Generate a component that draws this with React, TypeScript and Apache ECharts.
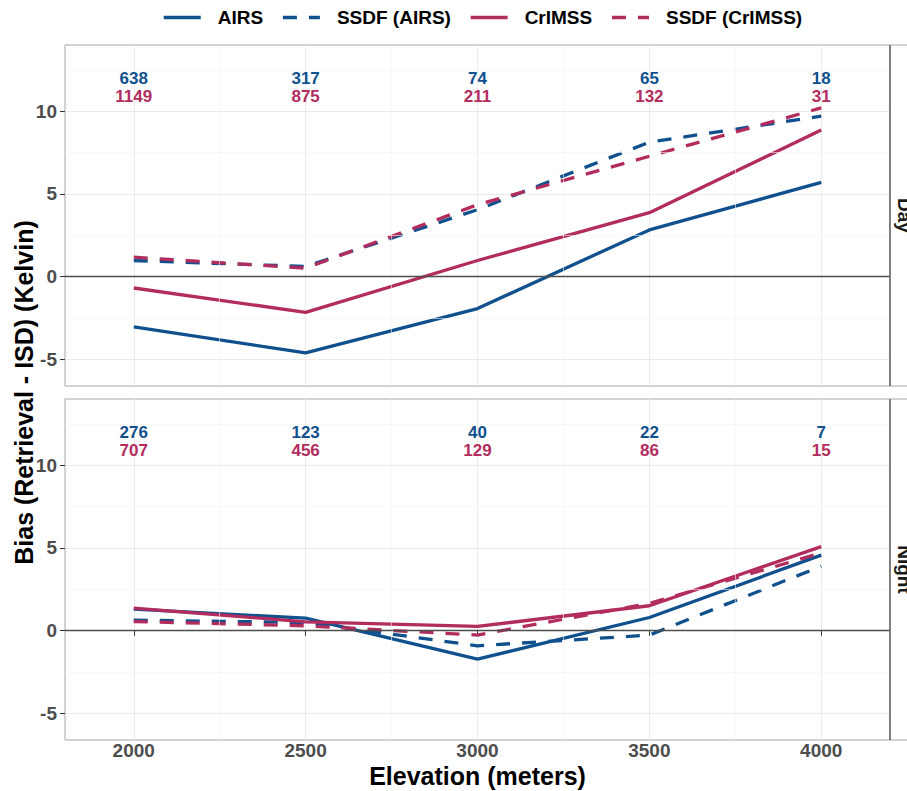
import React, { useEffect, useRef } from 'react';
import * as echarts from 'echarts';

// Elevation bins (metres) shared by both panels
const elevation = [2000, 2500, 3000, 3500, 4000];
const seriesNames = ['AIRS', 'SSDF (AIRS)', 'CrIMSS', 'SSDF (CrIMSS)'];
const panelNames = ['Day', 'Night'];

// Mean bias (retrieval - ISD), Kelvin — daytime
const dayAirs = [-3.03, -4.6, -1.92, 2.83, 5.7];
const daySsdfAirs = [0.98, 0.62, 4.05, 8.13, 9.7];
const dayCrimss = [-0.68, -2.15, 0.98, 3.87, 8.86];
const daySsdfCrimss = [1.18, 0.52, 4.35, 7.28, 10.2];

// Mean bias (retrieval - ISD), Kelvin — nighttime
const nightAirs = [1.31, 0.76, -1.71, 0.8, 4.57];
const nightSsdfAirs = [0.64, 0.5, -0.91, -0.26, 3.9];
const nightCrimss = [1.37, 0.54, 0.26, 1.51, 5.08];
const nightSsdfCrimss = [0.56, 0.3, -0.26, 1.65, 4.7];

// Number of matched samples per elevation bin
const dayAirsCount = [638, 317, 74, 65, 18];
const dayCrimssCount = [1149, 875, 211, 132, 31];
const nightAirsCount = [276, 123, 40, 22, 7];
const nightCrimssCount = [707, 456, 129, 86, 15];

// Axis ticks and light minor grid
const yTicks = [-5, 0, 5, 10];
const minorGridX = [2250, 2750, 3250, 3750];
const minorGridY = [-2.5, 2.5, 7.5, 12.5];

const BLUE = '#10508D';
const RED = '#B22C5E';
const FONT = "'Liberation Sans', Arial, Helvetica, sans-serif";
const AXIS_TEXT = '#4D4D4D';

const X_MIN = 1800;
const X_MAX = 4200;
const Y_MIN = -6.6;
const Y_MAX = 14;
const AIRS_COUNT_Y = 12.0;
const CRIMSS_COUNT_Y = 10.9;

const PANEL_LEFT = 65;
const PANEL_WIDTH = 825;
const PANEL_HEIGHT = 341;
const PANEL_TOPS = [45, 399];
const LINE_WIDTH = 3.3;

function lineSeries(name: string, values: number[], g: number, color: string, dashed: boolean) {
  return {
    type: 'line',
    name,
    xAxisIndex: g,
    yAxisIndex: g,
    data: elevation.map((x, i) => [x, values[i]]),
    showSymbol: false,
    symbol: 'none',
    lineStyle: { color, width: LINE_WIDTH, type: dashed ? [14, 12] : 'solid', cap: 'butt' },
    itemStyle: { color },
    z: 3,
    silent: true,
  };
}

function countSeries(id: string, counts: number[], y: number, g: number, color: string) {
  return {
    type: 'scatter',
    id,
    xAxisIndex: g,
    yAxisIndex: g,
    data: elevation.map((x, i) => [x, y, counts[i]]),
    symbolSize: 1,
    itemStyle: { color: 'rgba(0,0,0,0)', opacity: 1 },
    label: {
      show: true,
      position: 'inside',
      formatter: (p: any) => String(p.value[2]),
      fontSize: 17,
      lineHeight: 16,
      fontWeight: 'bold',
      fontFamily: FONT,
      color,
      opacity: 1,
      textBorderWidth: 0,
      textBorderColor: 'transparent',
    },
    silent: true,
    z: 4,
  };
}

function gridDecor(g: number) {
  return {
    type: 'line',
    id: 'decor-' + g,
    xAxisIndex: g,
    yAxisIndex: g,
    data: [],
    silent: true,
    z: 1,
    markLine: {
      silent: true,
      symbol: 'none',
      label: { show: false },
      lineStyle: { color: '#F3F3F3', width: 0.6, type: 'solid' },
      data: [
        ...minorGridX.map((v) => ({ xAxis: v })),
        ...minorGridY.map((v) => ({ yAxis: v })),
        { yAxis: 0, lineStyle: { color: '#4D4D4D', width: 1.3, type: 'solid' } },
      ],
    },
  };
}

export default function App() {
  const ref = useRef<HTMLDivElement>(null);

  useEffect(() => {
    document.body.style.margin = '0';
    if (!ref.current) return;
    const chart = echarts.init(ref.current, undefined, { renderer: 'svg' });

    const panelData = [
      [dayAirs, daySsdfAirs, dayCrimss, daySsdfCrimss],
      [nightAirs, nightSsdfAirs, nightCrimss, nightSsdfCrimss],
    ];
    const panelCounts = [
      [dayAirsCount, dayCrimssCount],
      [nightAirsCount, nightCrimssCount],
    ];
    const colors = [BLUE, BLUE, RED, RED];
    const dashed = [false, true, false, true];

    const series: any[] = [];
    panelData.forEach((vals, g) => {
      series.push(gridDecor(g));
      vals.forEach((v, k) => series.push(lineSeries(seriesNames[k], v, g, colors[k], dashed[k])));
      series.push(countSeries('airs-n-' + g, panelCounts[g][0], AIRS_COUNT_Y, g, BLUE));
      series.push(countSeries('crimss-n-' + g, panelCounts[g][1], CRIMSS_COUNT_Y, g, RED));
    });

    const grid = PANEL_TOPS.map((top) => ({
      left: PANEL_LEFT,
      top,
      width: PANEL_WIDTH,
      height: PANEL_HEIGHT,
      show: true,
      borderColor: '#A6A6A6',
      borderWidth: 1,
      backgroundColor: '#FFFFFF',
    }));

    const xAxis = PANEL_TOPS.map((_, g) => ({
      type: 'value',
      gridIndex: g,
      min: X_MIN,
      max: X_MAX,
      axisLine: { show: false },
      axisTick: {
        show: g === 1,
        length: 5,
        customValues: elevation,
        lineStyle: { color: '#333333', width: 1 },
      },
      axisLabel: {
        show: g === 1,
        customValues: elevation,
        formatter: (v: number) => String(v),
        margin: 1,
        fontSize: 19,
        fontWeight: 'bold',
        fontFamily: FONT,
        color: AXIS_TEXT,
      },
      splitLine: { show: true, lineStyle: { color: '#EBEBEB', width: 1 } },
      name: g === 1 ? 'Elevation (meters)' : '',
      nameLocation: 'middle',
      nameGap: 23,
      nameTextStyle: { fontSize: 25, fontWeight: 'bold', fontFamily: FONT, color: '#000000' },
    }));

    const yAxis = PANEL_TOPS.map((_, g) => ({
      type: 'value',
      gridIndex: g,
      min: Y_MIN,
      max: Y_MAX,
      axisLine: { show: false },
      axisTick: {
        show: true,
        length: 5,
        customValues: yTicks,
        lineStyle: { color: '#333333', width: 1 },
      },
      axisLabel: {
        customValues: yTicks,
        formatter: (v: number) => String(v),
        margin: 8,
        fontSize: 19,
        fontWeight: 'bold',
        fontFamily: FONT,
        color: AXIS_TEXT,
      },
      splitLine: { show: true, lineStyle: { color: '#EBEBEB', width: 1 } },
    }));

    const stripGraphics: any[] = [];
    PANEL_TOPS.forEach((top, g) => {
      stripGraphics.push({
        type: 'rect',
        shape: { x: PANEL_LEFT + PANEL_WIDTH, y: top, width: 40, height: PANEL_HEIGHT },
        style: { fill: '#FFFFFF', stroke: '#A6A6A6', lineWidth: 1 },
        z: 10,
      });
      stripGraphics.push({
        type: 'line',
        shape: {
          x1: PANEL_LEFT + PANEL_WIDTH,
          y1: top,
          x2: PANEL_LEFT + PANEL_WIDTH,
          y2: top + PANEL_HEIGHT,
        },
        style: { stroke: '#4D4D4D', lineWidth: 1.2 },
        z: 11,
      });
      stripGraphics.push({
        type: 'text',
        x: PANEL_LEFT + PANEL_WIDTH + 14,
        y: top + PANEL_HEIGHT / 2,
        rotation: -Math.PI / 2,
        style: {
          text: panelNames[g],
          font: `bold 19px ${FONT}`,
          fill: '#1A1A1A',
          align: 'center',
          verticalAlign: 'middle',
          textAlign: 'center',
          textVerticalAlign: 'middle',
        },
        z: 12,
      });
    });

    const option: any = {
      animation: false,
      backgroundColor: '#FFFFFF',
      legend: {
        data: seriesNames,
        top: 8,
        left: 162,
        padding: 0,
        itemWidth: 37,
        itemHeight: 16,
        itemGap: 18,
        itemStyle: { opacity: 0 },
        lineStyle: { width: 3.5 },
        textStyle: {
          fontSize: 19,
          fontWeight: 'bold',
          fontFamily: FONT,
          color: '#000000',
          padding: [0, 0, 0, 12],
        },
      },
      grid,
      xAxis,
      yAxis,
      series,
      graphic: [
        ...stripGraphics,
        {
          type: 'text',
          x: 24,
          y: PANEL_TOPS[0] + (PANEL_TOPS[1] + PANEL_HEIGHT - PANEL_TOPS[0]) / 2,
          rotation: Math.PI / 2,
          style: {
            text: 'Bias (Retrieval - ISD) (Kelvin)',
            font: `bold 25px ${FONT}`,
            fill: '#000000',
            align: 'center',
            verticalAlign: 'middle',
            textAlign: 'center',
            textVerticalAlign: 'middle',
          },
        },
      ],
    };

    chart.setOption(option);
    return () => chart.dispose();
  }, []);

  return (
    <div
      ref={ref}
      style={{ position: 'absolute', left: 0, top: 0, width: 907, height: 791 }}
    />
  );
}
